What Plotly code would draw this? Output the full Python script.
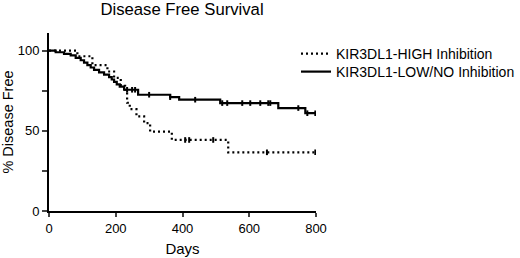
import plotly.graph_objects as go

# Kaplan-Meier step data (day, % disease free)
low_days = [0, 20, 45, 65, 80, 95, 105, 115, 125, 135, 150, 165, 180, 188, 195, 203, 212, 225, 267, 363, 390, 513, 687, 768, 800]
low_vals = [100, 99, 98, 97, 95.5, 94, 92.5, 91, 89.5, 88, 86.5, 85, 83.5, 82, 80.5, 79, 77.5, 75.6, 72.5, 71, 69.4, 67.3, 64.2, 61.0, 61.0]
low_censor = [234, 249, 258, 300, 363, 438, 519, 534, 579, 603, 633, 657, 663, 747, 774, 798]

high_days = [0, 85, 130, 175, 195, 215, 228, 234, 242, 262, 285, 303, 368, 537, 800]
high_vals = [100, 96.5, 91, 87, 83, 78, 75.6, 67.5, 63.5, 59, 54.8, 49.5, 44.3, 36.6, 36.6]
high_censor = [408, 420, 492, 653, 798]

x_ticks = [0, 200, 400, 600, 800]
y_ticks = [0, 25, 50, 75, 100]
y_tick_text = ["0", "", "50", "", "100"]


def step_value(days, vals, d):
    v = vals[0]
    for dd, vv in zip(days, vals):
        if dd <= d:
            v = vv
    return v


FONT = "Arial, 'Liberation Sans', sans-serif"
W, H = 520, 258
L, R, T, B = 49, 204, 33, 47
PW, PH = W - L - R, H - T - B

fig = go.Figure()
fig.add_trace(go.Scatter(
    x=high_days, y=high_vals, mode="lines", line_shape="hv",
    line=dict(color="black", width=2.2, dash="2px,3px"),
    name="KIR3DL1-HIGH Inhibition", legend="legend"))
fig.add_trace(go.Scatter(
    x=low_days, y=low_vals, mode="lines", line_shape="hv",
    line=dict(color="black", width=2.2),
    name="KIR3DL1-LOW/NO Inhibition", legend="legend2"))
fig.add_trace(go.Scatter(
    x=high_censor, y=[step_value(high_days, high_vals, d) for d in high_censor],
    mode="markers", marker=dict(symbol="line-ns", size=4, line=dict(color="black", width=2)),
    showlegend=False, hoverinfo="skip"))
fig.add_trace(go.Scatter(
    x=low_censor, y=[step_value(low_days, low_vals, d) for d in low_censor],
    mode="markers", marker=dict(symbol="line-ns", size=4, line=dict(color="black", width=2)),
    showlegend=False, hoverinfo="skip"))


def leg(px_left, px_center_y):
    return dict(x=(px_left - L) / PW, y=1 - (px_center_y - T) / PH, xanchor="left", yanchor="middle",
                font=dict(size=14), bgcolor="rgba(0,0,0,0)", borderwidth=0, itemwidth=30)


fig.update_layout(
    width=W, height=H,
    margin=dict(l=L, r=R, t=T, b=B, autoexpand=False),
    paper_bgcolor="white", plot_bgcolor="white",
    font=dict(family=FONT, color="black", size=13),
    title=dict(text="Disease Free Survival", x=182 / W, xanchor="center", xref="container",
               y=1 - 9 / H, yanchor="middle", font=dict(size=16.7)),
    legend=leg(296, 54),
    legend2=leg(296, 72),
    showlegend=True,
)
fig.update_xaxes(range=[0, 800], tickvals=x_ticks, ticks="outside", ticklen=4, tickwidth=2,
                 showline=True, linecolor="black", linewidth=2, showgrid=False, zeroline=False,
                 automargin=False,
                 title=dict(text="Days", font=dict(size=15), standoff=9),
                 tickfont=dict(size=13))
fig.update_yaxes(range=[0, 111], tickvals=y_ticks, ticktext=y_tick_text, ticks="outside", ticklen=5,
                 tickwidth=2, showline=True, linecolor="black", linewidth=2, showgrid=False,
                 zeroline=False, automargin=False,
                 title=dict(text="% Disease Free", font=dict(size=14.5), standoff=3),
                 tickfont=dict(size=13))

fig.write_html("out.html", config={"displayModeBar": False},
               post_script="document.body.style.margin='0px';")
